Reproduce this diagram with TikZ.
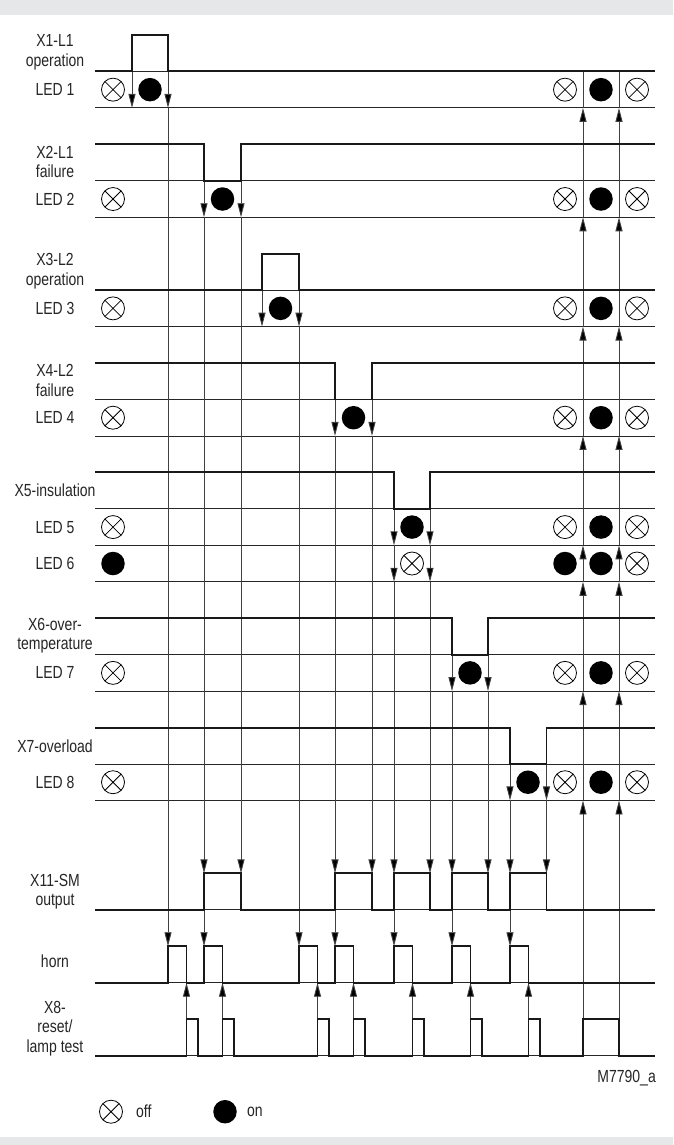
\documentclass[tikz,border=0pt]{standalone}
\usepackage{fontspec}
\setmainfont{Liberation Sans}[FakeStretch=0.8]
\usetikzlibrary{arrows.meta}
\definecolor{bggray}{HTML}{E6E7E9}
\tikzset{
  sig/.style={line width=1.9pt, line join=miter, black!90},
  gridline/.style={line width=0.9pt, black!85},
  vl/.style={line width=0.9pt, black!75},
  arr/.style={vl, -{Triangle[length=14pt,width=7pt,fill=black]}},
  ledoff/.style={circle, draw, line width=0.8pt, minimum size=23pt, inner sep=0pt, fill=white,
    path picture={\draw[line width=0.8pt] (path picture bounding box.north west) -- (path picture bounding box.south east)
      (path picture bounding box.north east) -- (path picture bounding box.south west);}},
  ledon/.style={circle, fill=black, minimum size=23.5pt, inner sep=0pt},
  lbl/.style={font=\fontsize{17.5}{19.5}\selectfont, text=black!85, align=center, inner sep=0pt}
}
\begin{document}
\begin{tikzpicture}[x=1pt,y=1pt]
\fill[bggray] (0,0) rectangle (673,-1145);
\fill[white] (0,-15) rectangle (673,-1137);
\useasboundingbox (0,0) rectangle (673,-1145);
\begin{scope}[yshift=-35pt, y=-36.45pt]
  % thin row lines
  \foreach \k in {1,2,4,5,7,8,10,11,13,14,15,17,18,20,21,24,26,28}
    \draw[gridline] (95,\k) -- (655,\k);
  % downward arrow lines
  \foreach \x/\a/\b in {132/1/2, 168/1/2, 168/2/25, 204/4/5, 204/5/23, 204/23/25, 241/4/5, 241/5/23,
      262/7/8, 299/7/8, 299/8/25, 335/10/11, 335/11/23, 335/23/25, 372/10/11, 372/11/23,
      394/13/14, 394/14/15, 394/15/23, 394/23/25, 430/13/14, 430/14/15, 430/15/23,
      452/17/18, 452/18/23, 452/23/25, 488/17/18, 488/18/23,
      510/20/21, 510/21/23, 510/23/25, 546.5/20/21, 546.5/21/23}
    \draw[arr] (\x,\a) -- (\x,\b);
  % upward arrows from X8 to horn
  \foreach \x in {186.5,222.5,317.5,353.5,412.5,470.5,528.5}
    \draw[arr] (\x,27) -- (\x,26);
  % reset / lamp test arrows
  \foreach \x in {583,619} {
    \draw[vl] (\x,2) -- (\x,1);
    \foreach \a/\b in {27/21,21/18,18/15,15/14,14/11,11/8,8/5,5/2}
      \draw[arr] (\x,\a) -- (\x,\b);
  }
  % signals
  \draw[sig] (95,1)--(132,1)--(132,0)--(168,0)--(168,1)--(655,1);
  \draw[sig] (95,3)--(204,3)--(204,4)--(241,4)--(241,3)--(655,3);
  \draw[sig] (95,7)--(262,7)--(262,6)--(299,6)--(299,7)--(655,7);
  \draw[sig] (95,9)--(335,9)--(335,10)--(372,10)--(372,9)--(655,9);
  \draw[sig] (95,12)--(394,12)--(394,13)--(430,13)--(430,12)--(655,12);
  \draw[sig] (95,16)--(452,16)--(452,17)--(488,17)--(488,16)--(655,16);
  \draw[sig] (95,19)--(510,19)--(510,20)--(546.5,20)--(546.5,19)--(655,19);
  \draw[sig] (95,24)--(204,24)--(204,23)--(241,23)--(241,24)--(335,24)--(335,23)--(372,23)--(372,24)
    --(394,24)--(394,23)--(430,23)--(430,24)--(452,24)--(452,23)--(488,23)--(488,24)
    --(510,24)--(510,23)--(546.5,23)--(546.5,24)--(655,24);
  \draw[sig] (95,26)--(168,26)--(168,25)--(186.5,25)--(186.5,26)--(204,26)--(204,25)--(222.5,25)--(222.5,26)
    --(299,26)--(299,25)--(317.5,25)--(317.5,26)--(335,26)--(335,25)--(353.5,25)--(353.5,26)
    --(394,26)--(394,25)--(412.5,25)--(412.5,26)--(452,26)--(452,25)--(470.5,25)--(470.5,26)
    --(510,26)--(510,25)--(528.5,25)--(528.5,26)--(655,26);
  \draw[sig] (95,28)--(186.5,28)--(186.5,27)--(198,27)--(198,28)--(222.5,28)--(222.5,27)--(234,27)--(234,28)
    --(317.5,28)--(317.5,27)--(329,27)--(329,28)--(353.5,28)--(353.5,27)--(365,27)--(365,28)
    --(412.5,28)--(412.5,27)--(424,27)--(424,28)--(470.5,28)--(470.5,27)--(482,27)--(482,28)
    --(528.5,28)--(528.5,27)--(540,27)--(540,28)--(583,28)--(583,27)--(619,27)--(619,28)--(655,28);
  % LEDs
  \foreach \k/\m in {1.5/150, 4.5/222.5, 7.5/280.5, 10.5/353.5, 13.5/412, 17.5/470} {
    \node[ledoff] (l\k a) at (113,\k) {};
    \node[ledon]  (l\k b) at (\m,\k) {};
    \node[ledoff] (l\k c) at (565,\k) {};
    \node[ledon]  (l\k d) at (601,\k) {};
    \node[ledoff] (l\k e) at (637,\k) {};
  }
  \node[ledon]  (l6a) at (113,14.5) {};
  \node[ledoff] (l6b) at (412,14.5) {};
  \node[ledon]  (l6c) at (565,14.5) {};
  \node[ledon]  (l6d) at (601,14.5) {};
  \node[ledoff] (l6e) at (637,14.5) {};
  \node[ledoff] (l8a) at (113,20.5) {};
  \node[ledon]  (l8b) at (528,20.5) {};
  \node[ledoff] (l8c) at (565,20.5) {};
  \node[ledon]  (l8d) at (601,20.5) {};
  \node[ledoff] (l8e) at (637,20.5) {};
  % labels
  \node[lbl] (t1) at (55,0.48) {X1-L1\\operation};
  \node[lbl] (t2) at (55,1.5) {LED 1};
  \node[lbl] (t3) at (55,3.48) {X2-L1\\failure};
  \node[lbl] (t4) at (55,4.5) {LED 2};
  \node[lbl] (t5) at (55,6.48) {X3-L2\\operation};
  \node[lbl] (t6) at (55,7.5) {LED 3};
  \node[lbl] (t7) at (55,9.48) {X4-L2\\failure};
  \node[lbl] (t8) at (55,10.5) {LED 4};
  \node[lbl] (t9) at (55,12.5) {X5-insulation};
  \node[lbl] (t10) at (55,13.5) {LED 5};
  \node[lbl] (t11) at (55,14.5) {LED 6};
  \node[lbl] (t12) at (55,16.48) {X6-over-\\temperature};
  \node[lbl] (t13) at (55,17.5) {LED 7};
  \node[lbl] (t14) at (55,19.5) {X7-overload};
  \node[lbl] (t15) at (55,20.5) {LED 8};
  \node[lbl] (t16) at (55,23.5) {X11-SM\\output};
  \node[lbl] (t17) at (55,25.4) {horn};
  \node[lbl] (t18) at (55,27.25) {X8-\\reset/\\lamp test};
\end{scope}
\node[lbl, anchor=east] (code) at (656,-1078) {M7790\_a};
\node[ledoff] (legoff) at (111,-1111.7) {};
\node[lbl, anchor=west] (offt) at (136,-1111.7) {off};
\node[ledon] (legon) at (225,-1111.7) {};
\node[lbl, anchor=west] (ont) at (247,-1111.7) {on};
\end{tikzpicture}
\end{document}
